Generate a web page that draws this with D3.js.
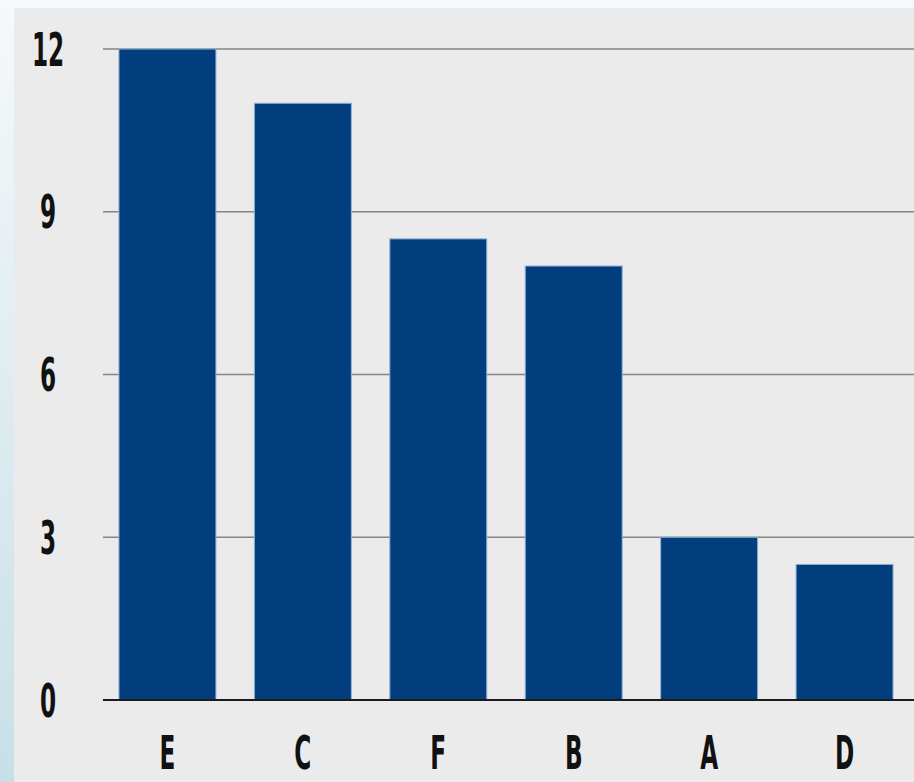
<!DOCTYPE html>
<html>
<head>
<meta charset="utf-8">
<script src="https://cdn.jsdelivr.net/npm/d3@7"></script>
<style>
  html, body { margin: 0; padding: 0; }
  body { width: 914px; height: 782px; overflow: hidden; }
  svg { display: block; }
</style>
</head>
<body>
<svg id="chart" width="914" height="782"></svg>
<script>
// Category order as drawn, with their values
const categories = ["E", "C", "F", "B", "A", "D"];
const values = [12, 11, 8.5, 8, 3, 2.5];
const yTicks = [0, 3, 6, 9, 12];

const W = 914, H = 782;
const svg = d3.select("#chart");

// Backdrop: soft blue gradient frame behind a light grey panel
const defs = svg.append("defs");
const grad = defs.append("linearGradient")
  .attr("id", "frame").attr("x1", 0).attr("y1", 0).attr("x2", 0).attr("y2", 1);
grad.append("stop").attr("offset", "0%").attr("stop-color", "#f5f9fb");
grad.append("stop").attr("offset", "100%").attr("stop-color", "#c8dfe7");

svg.append("rect").attr("width", W).attr("height", H).attr("fill", "url(#frame)");
svg.append("rect").attr("x", 14).attr("y", 8).attr("width", W - 14).attr("height", H - 8)
  .attr("fill", "#ebebeb");

const gridLeft = 103, gridRight = 914;
const x = d3.scaleBand()
  .domain(categories)
  .range([100, 912])
  .paddingInner(0.284)
  .paddingOuter(0.14);

const y = d3.scaleLinear().domain([0, 12]).range([700, 49]);

const font = "'Liberation Sans Narrow', 'DejaVu Sans Condensed', 'Arial Narrow', sans-serif";

// Gridlines
svg.append("g").selectAll("line")
  .data(yTicks.filter(d => d !== 0))
  .join("line")
  .attr("x1", gridLeft).attr("x2", gridRight)
  .attr("y1", d => y(d)).attr("y2", d => y(d))
  .attr("stroke", "#858585").attr("stroke-width", 1.6);

// Bars
const data = categories.map((c, i) => ({ c, v: values[i] }));
svg.append("g").selectAll("rect")
  .data(data)
  .join("rect")
  .attr("x", d => x(d.c))
  .attr("y", d => y(d.v))
  .attr("width", x.bandwidth())
  .attr("height", d => y(0) - y(d.v))
  .attr("fill", "#023e7e")
  .attr("stroke", "#8fb3d6")
  .attr("stroke-width", 1);

// Baseline
svg.append("line")
  .attr("x1", gridLeft).attr("x2", gridRight)
  .attr("y1", y(0)).attr("y2", y(0))
  .attr("stroke", "#1a1a1a").attr("stroke-width", 2);

// Y tick labels (condensed)
svg.append("g").selectAll("text")
  .data(yTicks)
  .join("text")
  .attr("transform", d => `translate(48,${y(d)}) scale(0.56,1)`)
  .attr("text-anchor", "middle")
  .attr("dy", "0.36em")
  .attr("font-family", font)
  .attr("font-size", 46)
  .attr("font-weight", "bold")
  .attr("fill", "#111")
  .text(d => d);

// X category labels
svg.append("g").selectAll("text")
  .data(categories)
  .join("text")
  .attr("transform", d => `translate(${x(d) + x.bandwidth() / 2},752) scale(0.56,1)`)
  .attr("text-anchor", "middle")
  .attr("dy", "0.36em")
  .attr("font-family", font)
  .attr("font-size", 46)
  .attr("font-weight", "bold")
  .attr("fill", "#111")
  .text(d => d);
</script>
</body>
</html>
